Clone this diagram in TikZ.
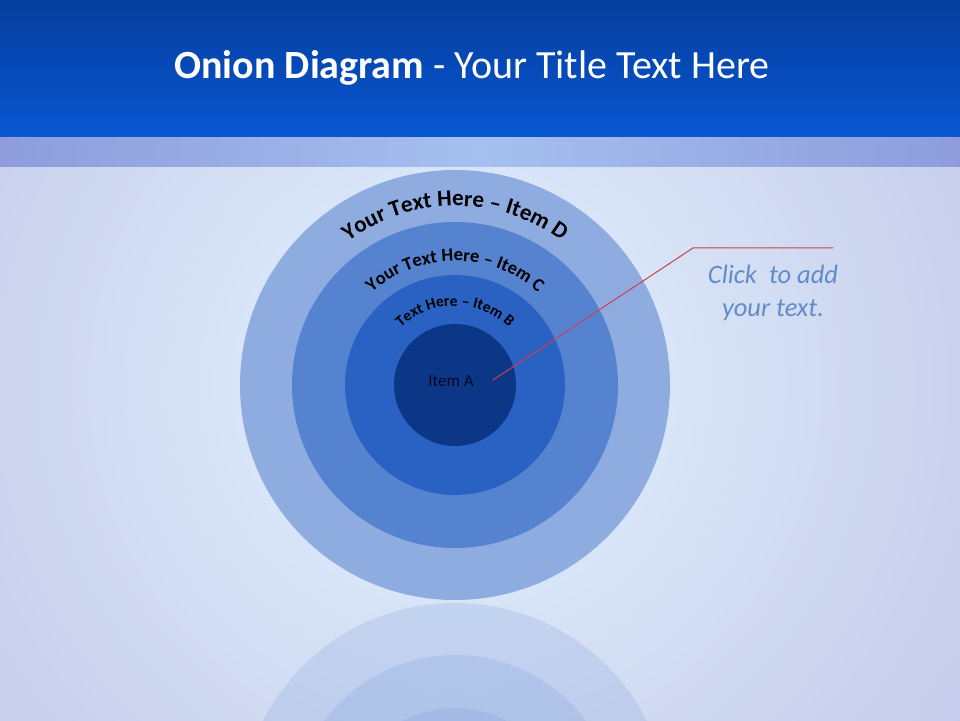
\documentclass[tikz,border=0pt]{standalone}
\usepackage{fontspec}
\setmainfont{Carlito}
\usetikzlibrary{decorations.text}
\definecolor{hdrtop}{RGB}{5,62,158}
\definecolor{hdrbot}{RGB}{8,86,210}
\definecolor{stripeedge}{RGB}{142,156,220}
\definecolor{stripemid}{RGB}{165,192,238}
\definecolor{bodybg}{RGB}{196,201,233}
\definecolor{glow}{RGB}{226,242,254}
\definecolor{ringD}{RGB}{143,172,224}
\definecolor{ringC}{RGB}{86,131,207}
\definecolor{ringB}{RGB}{41,98,194}
\definecolor{ringA}{RGB}{12,55,135}
\definecolor{callred}{RGB}{210,60,80}
\definecolor{clicktxt}{RGB}{98,140,200}
\definecolor{itemtxt}{RGB}{0,8,35}
\tikzset{
  ring/.style={circle, inner sep=0pt, draw=none},
  curvetext/.style={decorate, decoration={text along path, text align=center, text={#1}}},
}
\begin{document}
\begin{tikzpicture}[x=1pt,y=1pt]
\useasboundingbox (0,0) rectangle (960,720);
% body background
\begin{scope}
  \clip (0,0) rectangle (960,553);
  \fill[bodybg] (0,0) rectangle (960,553);
  \shade[inner color=glow, outer color=bodybg] (455,335) circle (640);
  % reflection
  \begin{scope}[transparency group, opacity=0.28]
    \fill[ringD] (455,-98) circle (215);
    \fill[ringC] (455,-98) circle (163);
    \fill[ringB] (455,-98) circle (110);
    \fill[ringA] (455,-98) circle (61);
  \end{scope}
\end{scope}
% stripe and header
\shade[left color=stripeedge, right color=stripeedge, middle color=stripemid] (0,553) rectangle (960,583);
\shade[top color=hdrtop, bottom color=hdrbot] (0,583) rectangle (960,720);
\node[text=white, font=\fontsize{40}{46}\selectfont] (title) at (472,652) {\textbf{Onion Diagram} - Your Title Text Here};
% rings
\node[ring, fill=ringD, minimum size=430] (D) at (455,335) {};
\node[ring, fill=ringC, minimum size=326] (C) at (455,335) {};
\node[ring, fill=ringB, minimum size=220] (B) at (455,335) {};
\node[ring, fill=ringA, minimum size=122] (A) at (455,335) {};
% curved labels
\path[curvetext={|\bfseries\fontsize{23}{23}\selectfont|Your Text Here – Item D}] (A.center) ++(155:179) arc[start angle=155, end angle=25, radius=179];
\path[curvetext={|\bfseries\fontsize{18.5}{18.5}\selectfont|Your Text Here – Item C}] (A.center) ++(160:124) arc[start angle=160, end angle=20, radius=124];
\path[curvetext={|\bfseries\fontsize{15.5}{15.5}\selectfont|Text Here – Item B}] (A.center) ++(170:79) arc[start angle=170, end angle=10, radius=79];
\node[text=itemtxt, font=\fontsize{17}{17}\selectfont] (itemA) at (451,339) {Item A};
% callout
\coordinate (p0) at (493,340);
\coordinate (p1) at (693,472);
\coordinate (p2) at (833,472);
\draw[callred, line width=1pt] (p0) -- (p1) -- (p2);
\node[align=center, text=clicktxt, font=\itshape\fontsize{26.5}{33}\selectfont] (click) at (773,427) {Click\ \ to add\\your text.};
\end{tikzpicture}
\end{document}
